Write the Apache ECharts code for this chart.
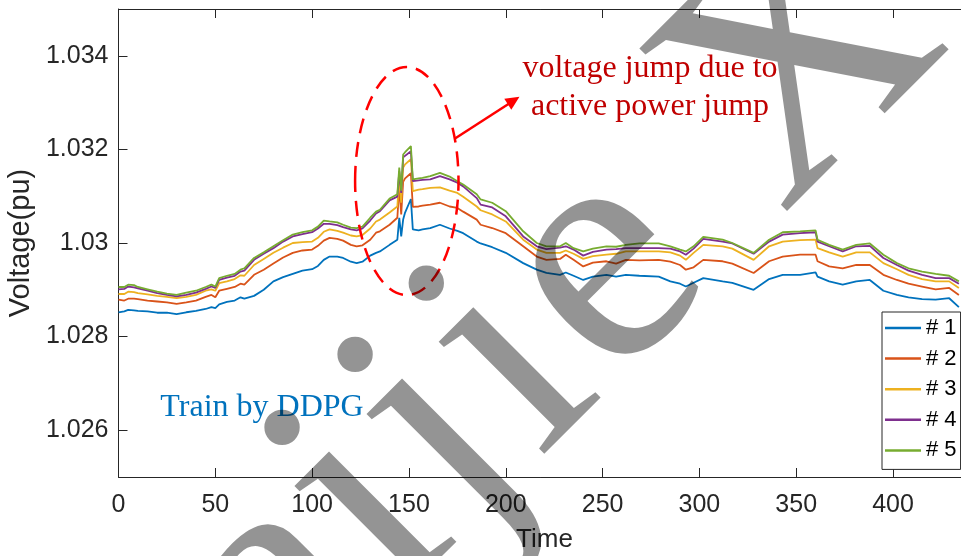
<!DOCTYPE html>
<html>
<head>
<meta charset="utf-8">
<title>Voltage profile</title>
<script src="https://cdn.jsdelivr.net/npm/echarts@6/dist/echarts.min.js"></script>
<style>
  html, body { margin: 0; padding: 0; background: #fff; }
  #chart { width: 961px; height: 556px; }
</style>
</head>
<body>
<div id="chart"></div>
<script>
// Sample times shared by all five buses
const times = [
  0, 3, 5, 8, 10, 15, 20, 25, 30, 35,
  40, 45, 48, 50, 52, 56, 60, 63, 65, 70,
  75, 80, 85, 90, 95, 100, 103, 106, 109, 113,
  116, 120, 123, 126, 130, 133, 135, 140, 144, 145,
  146, 147, 148, 151, 152, 155, 157, 161, 166, 171,
  175, 178, 185, 187, 193, 200, 209, 216, 221, 228,
  231, 235, 240, 245, 252, 257, 262, 269, 279, 285,
  290, 293, 297, 302, 312, 317, 328, 336, 343, 352,
  360, 361, 367, 374, 381, 388, 395, 402, 408, 415,
  422, 429, 434
];

const bus1 = [
  1.02852, 1.02854, 1.02857, 1.02856, 1.02855, 1.02854, 1.02851, 1.02851, 1.02848, 1.02852,
  1.02855, 1.02859, 1.02863, 1.02861, 1.02869, 1.02874, 1.02877, 1.02884, 1.02881, 1.02887,
  1.02900, 1.02918, 1.02927, 1.02934, 1.02941, 1.02944, 1.02951, 1.02964, 1.02971, 1.02971,
  1.02968, 1.02960, 1.02957, 1.02960, 1.02973, 1.02979, 1.02982, 1.02996, 1.03007, 1.03054,
  1.03014, 1.03050, 1.03065, 1.03094, 1.03029, 1.03027, 1.03029, 1.03032, 1.03039, 1.03031,
  1.03026, 1.03021, 1.03003, 1.02999, 1.02991, 1.02979, 1.02957, 1.02943, 1.02936, 1.02932,
  1.02937, 1.02930, 1.02921, 1.02928, 1.02932, 1.02928, 1.02932, 1.02930, 1.02928, 1.02918,
  1.02913, 1.02907, 1.02915, 1.02925, 1.02918, 1.02915, 1.02900, 1.02923, 1.02932, 1.02932,
  1.02937, 1.02928, 1.02918, 1.02911, 1.02918, 1.02921, 1.02898, 1.02889, 1.02884, 1.02880,
  1.02879, 1.02882, 1.02863
];

const bus2 = [
  1.02879, 1.02877, 1.02881, 1.02881, 1.02880, 1.02877, 1.02875, 1.02873, 1.02870, 1.02873,
  1.02877, 1.02885, 1.02889, 1.02884, 1.02898, 1.02902, 1.02906, 1.02913, 1.02911, 1.02932,
  1.02943, 1.02956, 1.02969, 1.02979, 1.02984, 1.02986, 1.02994, 1.03005, 1.03011, 1.03009,
  1.03005, 1.02996, 1.02993, 1.02995, 1.03007, 1.03022, 1.03025, 1.03039, 1.03054, 1.03119,
  1.03061, 1.03131, 1.03138, 1.03149, 1.03077, 1.03078, 1.03080, 1.03082, 1.03086, 1.03078,
  1.03075, 1.03067, 1.03050, 1.03039, 1.03032, 1.03021, 1.02993, 1.02971, 1.02964, 1.02966,
  1.02975, 1.02964, 1.02950, 1.02958, 1.02961, 1.02956, 1.02964, 1.02963, 1.02964, 1.02960,
  1.02953, 1.02943, 1.02948, 1.02964, 1.02961, 1.02956, 1.02936, 1.02961, 1.02971, 1.02975,
  1.02975, 1.02961, 1.02950, 1.02946, 1.02953, 1.02953, 1.02932, 1.02921, 1.02913, 1.02907,
  1.02901, 1.02904, 1.02889
];

const bus3 = [
  1.02891, 1.02891, 1.02896, 1.02895, 1.02893, 1.02890, 1.02887, 1.02885, 1.02882, 1.02885,
  1.02889, 1.02898, 1.02901, 1.02898, 1.02914, 1.02918, 1.02923, 1.02931, 1.02930, 1.02953,
  1.02966, 1.02979, 1.02990, 1.03000, 1.03002, 1.03003, 1.03011, 1.03024, 1.03029, 1.03026,
  1.03022, 1.03016, 1.03014, 1.03017, 1.03031, 1.03046, 1.03050, 1.03065, 1.03078, 1.03140,
  1.03086, 1.03161, 1.03168, 1.03179, 1.03111, 1.03114, 1.03115, 1.03118, 1.03119, 1.03112,
  1.03107, 1.03099, 1.03078, 1.03070, 1.03061, 1.03046, 1.03007, 1.02986, 1.02979, 1.02979,
  1.02984, 1.02977, 1.02966, 1.02972, 1.02975, 1.02977, 1.02982, 1.02982, 1.02982, 1.02980,
  1.02973, 1.02964, 1.02979, 1.02996, 1.02993, 1.02988, 1.02964, 1.02993, 1.03003, 1.03006,
  1.03007, 1.02989, 1.02980, 1.02971, 1.02980, 1.02980, 1.02957, 1.02944, 1.02932, 1.02923,
  1.02918, 1.02918, 1.02904
];

const bus4 = [
  1.02901, 1.02902, 1.02907, 1.02905, 1.02903, 1.02898, 1.02893, 1.02889, 1.02886, 1.02889,
  1.02894, 1.02902, 1.02907, 1.02904, 1.02921, 1.02926, 1.02930, 1.02939, 1.02941, 1.02964,
  1.02977, 1.02989, 1.03003, 1.03014, 1.03019, 1.03023, 1.03031, 1.03041, 1.03041, 1.03038,
  1.03034, 1.03029, 1.03027, 1.03031, 1.03048, 1.03063, 1.03068, 1.03091, 1.03099, 1.03153,
  1.03107, 1.03183, 1.03187, 1.03196, 1.03132, 1.03134, 1.03135, 1.03136, 1.03143, 1.03136,
  1.03129, 1.03121, 1.03096, 1.03082, 1.03076, 1.03057, 1.03014, 1.02993, 1.02987, 1.02990,
  1.02993, 1.02986, 1.02973, 1.02981, 1.02986, 1.02987, 1.02989, 1.02989, 1.02989, 1.02988,
  1.02982, 1.02975, 1.02988, 1.03009, 1.03003, 1.02999, 1.02977, 1.03003, 1.03018, 1.03021,
  1.03023, 1.03003, 1.02993, 1.02982, 1.02993, 1.02994, 1.02968, 1.02953, 1.02941, 1.02932,
  1.02925, 1.02925, 1.02913
];

const bus5 = [
  1.02906, 1.02906, 1.02911, 1.02910, 1.02906, 1.02901, 1.02896, 1.02892, 1.02889, 1.02894,
  1.02898, 1.02906, 1.02911, 1.02907, 1.02925, 1.02930, 1.02934, 1.02943, 1.02946, 1.02968,
  1.02980, 1.02993, 1.03006, 1.03018, 1.03023, 1.03027, 1.03035, 1.03048, 1.03046, 1.03044,
  1.03039, 1.03033, 1.03032, 1.03035, 1.03054, 1.03067, 1.03071, 1.03095, 1.03104, 1.03161,
  1.03112, 1.03189, 1.03194, 1.03207, 1.03136, 1.03138, 1.03139, 1.03143, 1.03150, 1.03142,
  1.03132, 1.03125, 1.03104, 1.03093, 1.03086, 1.03068, 1.03025, 1.03000, 1.02993, 1.02993,
  1.03000, 1.02989, 1.02982, 1.02988, 1.02993, 1.02992, 1.02996, 1.02999, 1.02999, 1.02993,
  1.02986, 1.02982, 1.02993, 1.03013, 1.03007, 1.03000, 1.02979, 1.03007, 1.03023, 1.03025,
  1.03027, 1.03007, 1.02996, 1.02986, 1.02996, 1.02999, 1.02975, 1.02957, 1.02946, 1.02939,
  1.02934, 1.02930, 1.02918
];

const seriesNames = ['# 1', '# 2', '# 3', '# 4', '# 5'];
const seriesValues = [bus1, bus2, bus3, bus4, bus5];
const seriesColors = ['#0072BD', '#D95319', '#EDB120', '#7E2F8E', '#77AC30'];

const xTickValues = [0, 50, 100, 150, 200, 250, 300, 350, 400];
const yTickValues = [1.026, 1.028, 1.030, 1.032, 1.034];

const SANS = "'Liberation Sans', Arial, Helvetica, sans-serif";
const SERIF = "'Liberation Serif', 'Times New Roman', serif";
const AXIS_COLOR = '#262626';

const chart = echarts.init(document.getElementById('chart'), null, { renderer: 'canvas' });

const axisLineStyle = { color: AXIS_COLOR, width: 1 };

function boxAxisLine() {
  return { show: true, onZero: false, lineStyle: axisLineStyle };
}
function innerTicks(values) {
  return { show: true, inside: true, length: 9, customValues: values, lineStyle: axisLineStyle };
}

// Diagonal watermark: glyphs laid along a 45-degree baseline.
// Each entry is a glyph and its offset (px) along that baseline.
const MARK_SIZE = 335;
const MARK_LINE = -617.7;
const markGlyphs = [['T', -500], ['a', -296], ['i', -147], ['j', -46], ['i', 57], ['e', 160], ['X', 400]];
const R = Math.SQRT1_2;
const markElements = markGlyphs.map(([ch, s]) => ({
  type: 'text',
  z: 100,
  silent: true,
  x: R * (s - MARK_LINE),
  y: -R * (s + MARK_LINE),
  rotation: Math.PI / 4,
  style: {
    text: ch,
    font: MARK_SIZE + 'px ' + SERIF,
    fill: 'rgba(0,0,0,0.42)',
    align: 'left',
    verticalAlign: 'middle'
  }
}));

const option = {
  backgroundColor: '#ffffff',
  animation: false,
  grid: {
    left: 118.5,
    top: 9,
    width: 852,
    height: 468,
    outerBoundsMode: 'none'
  },
  xAxis: [
    {
      type: 'value',
      min: 0,
      max: 440,
      position: 'bottom',
      name: 'Time',
      nameLocation: 'middle',
      nameGap: 50,
      nameTextStyle: { fontFamily: SANS, fontSize: 26, color: AXIS_COLOR },
      axisLine: boxAxisLine(),
      axisTick: innerTicks(xTickValues),
      axisLabel: { customValues: xTickValues, fontFamily: SANS, fontSize: 25, color: AXIS_COLOR, margin: 16 },
      splitLine: { show: false }
    },
    {
      type: 'value',
      min: 0,
      max: 440,
      position: 'top',
      axisLine: boxAxisLine(),
      axisTick: innerTicks(xTickValues),
      axisLabel: { show: false },
      splitLine: { show: false }
    }
  ],
  yAxis: [
    {
      type: 'value',
      min: 1.025,
      max: 1.035,
      position: 'left',
      name: 'Voltage(pu)',
      nameLocation: 'middle',
      nameGap: 79,
      nameRotate: 90,
      nameTextStyle: { fontFamily: SANS, fontSize: 29, color: AXIS_COLOR },
      axisLine: boxAxisLine(),
      axisTick: innerTicks(yTickValues),
      axisLabel: {
        customValues: yTickValues,
        fontFamily: SANS,
        fontSize: 25,
        color: AXIS_COLOR,
        margin: 10,
        formatter: (v) => String(+Number(v).toFixed(3))
      },
      splitLine: { show: false }
    },
    {
      type: 'value',
      min: 1.025,
      max: 1.035,
      position: 'right',
      axisLine: boxAxisLine(),
      axisTick: innerTicks(yTickValues),
      axisLabel: { show: false },
      splitLine: { show: false }
    }
  ],
  legend: {
    orient: 'vertical',
    left: 882,
    top: 312,
    icon: 'rect',
    itemWidth: 36,
    itemHeight: 2.5,
    itemGap: 8.6,
    padding: [5, 4, 8, 3],
    borderColor: AXIS_COLOR,
    borderWidth: 1,
    backgroundColor: '#ffffff',
    textStyle: { fontFamily: SANS, fontSize: 22, color: '#000000', lineHeight: 21 },
    data: seriesNames
  },
  series: seriesNames.map((name, k) => ({
    name: name,
    type: 'line',
    xAxisIndex: 0,
    yAxisIndex: 0,
    symbol: 'none',
    showSymbol: false,
    color: seriesColors[k],
    lineStyle: { color: seriesColors[k], width: 1.8 },
    data: times.map((t, i) => [t, seriesValues[k][i]]),
    z: 2 + k
  })),
  graphic: [
    // dashed ellipse around the jump
    {
      type: 'ellipse',
      z: 50,
      shape: { cx: 406.8, cy: 181, rx: 51.7, ry: 114 },
      style: { fill: 'none', stroke: '#ff0000', lineWidth: 2.5, lineDash: [15, 9] }
    },
    // arrow towards the note
    {
      type: 'line',
      z: 50,
      shape: { x1: 455, y1: 138.5, x2: 510, y2: 103 },
      style: { stroke: '#ff0000', lineWidth: 2.5 }
    },
    {
      type: 'polygon',
      z: 50,
      shape: { points: [[519.5, 96.7], [511.3, 109.8], [504.3, 98.8]] },
      style: { fill: '#ff0000' }
    },
    {
      type: 'text',
      z: 50,
      x: 650,
      y: 68.5,
      style: {
        text: 'voltage jump due to',
        font: '32px ' + SERIF,
        fill: '#C00000',
        align: 'center',
        verticalAlign: 'middle'
      }
    },
    {
      type: 'text',
      z: 50,
      x: 650,
      y: 106.5,
      style: {
        text: 'active power jump',
        font: '32px ' + SERIF,
        fill: '#C00000',
        align: 'center',
        verticalAlign: 'middle'
      }
    },
    {
      type: 'text',
      z: 50,
      x: 262,
      y: 408,
      style: {
        text: 'Train by DDPG',
        font: '32px ' + SERIF,
        fill: '#0072BD',
        align: 'center',
        verticalAlign: 'middle'
      }
    },
    ...markElements
  ]
};

chart.setOption(option);
</script>
</body>
</html>
